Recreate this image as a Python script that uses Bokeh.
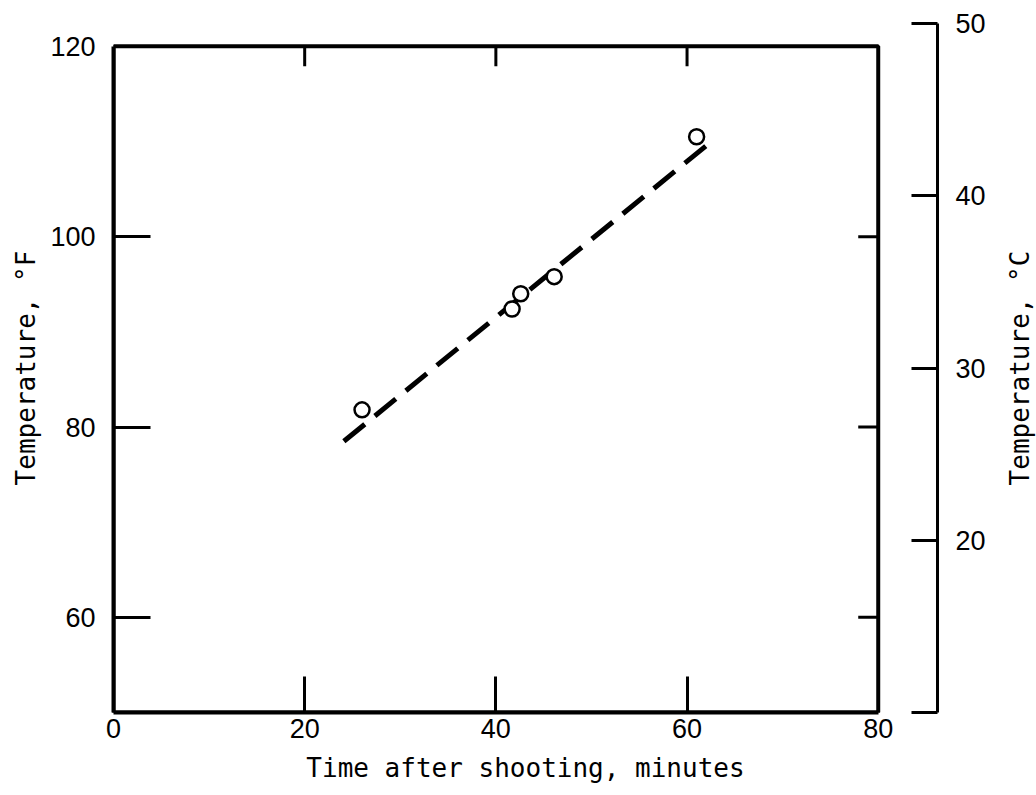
import math
from bokeh.plotting import figure
from bokeh.layouts import row
from bokeh.models import Range1d, LinearAxis, FixedTicker, BoxAnnotation, Title
from bokeh.embed import file_html
from bokeh.resources import INLINE

# ---- data ----
time_min = [26.0, 41.7, 42.6, 46.1, 61.0]
temp_f = [81.8, 92.4, 94.0, 95.8, 110.5]
fit_time = [24.1, 62.3]
fit_temp = [78.5, 109.8]

x_ticks = [0, 20, 40, 60, 80]
f_ticks = [60, 80, 100, 120]
c_ticks = [10, 20, 30, 40, 50]
top_ticks = [20, 40, 60]
right_ticks = [60, 80, 100]

# axis limits
X_MIN, X_MAX = 0, 80
F_MIN, F_MAX = 50, 120
C_MIN, C_MAX = 10, 50
X_END = 86.2     # frame reaches the separate °C axis
F_END = 122.4    # °F value at the top of the °C axis

TICK_FONT = "Liberation Sans"
TITLE_FONT = "DejaVu Sans Mono"

p = figure(width=994, height=795, output_backend="svg", toolbar_location=None,
           x_range=Range1d(X_MIN, X_END), y_range=Range1d(F_MIN, F_END),
           x_axis_location=None, y_axis_location=None,
           min_border_left=113, min_border_right=57, min_border_top=23, min_border_bottom=83)
p.outline_line_color = None
p.background_fill_color = "white"
p.border_fill_color = "white"
for g in p.grid:
    g.visible = False


def style(ax, tick_in):
    ax.axis_line_color = "black"
    ax.axis_line_width = 4
    ax.major_tick_line_color = "black"
    ax.major_tick_line_width = 3
    ax.major_tick_in = tick_in
    ax.major_tick_out = 0
    ax.minor_tick_line_color = None
    ax.major_label_text_font = TICK_FONT
    ax.major_label_text_font_size = "27px"
    ax.major_label_text_color = "black"
    ax.axis_label_text_font = TITLE_FONT
    ax.axis_label_text_font_size = "26px"
    ax.axis_label_text_font_style = "normal"
    ax.axis_label_text_color = "black"


xaxis = LinearAxis(bounds=(X_MIN, X_MAX), ticker=FixedTicker(ticks=x_ticks),
                   axis_label="Time after shooting, minutes")
style(xaxis, 36)
xaxis.major_label_standoff = 6
xaxis.axis_label_standoff = 12
p.add_layout(xaxis, "below")

yaxis = LinearAxis(bounds=(F_MIN, F_MAX), ticker=FixedTicker(ticks=f_ticks),
                   axis_label="Temperature, °F")
style(yaxis, 37)
yaxis.major_label_standoff = 18
yaxis.axis_label_standoff = 6
p.add_layout(yaxis, "left")

p.extra_y_ranges = {"C": Range1d(C_MIN, C_MAX)}
caxis = LinearAxis(y_range_name="C", ticker=FixedTicker(ticks=c_ticks),
                   major_label_overrides={C_MIN: ""})
style(caxis, 26)
caxis.axis_line_width = 3
caxis.major_label_standoff = 18
p.add_layout(caxis, "right")

# plot box (top and right sides)
box = BoxAnnotation(left=X_MIN, right=X_MAX, bottom=F_MIN, top=F_MAX,
                    fill_color=None, fill_alpha=0, line_color="black",
                    line_alpha=1.0, line_width=4)
p.add_layout(box)

# inward ticks on top and right sides of the box
p.ray(x=top_ticks, y=[F_MAX] * len(top_ticks), length=20, length_units="screen",
      angle=-math.pi / 2, line_color="black", line_width=3)
p.ray(x=[X_MAX] * len(right_ticks), y=right_ticks, length=20, length_units="screen",
      angle=math.pi, line_color="black", line_width=3)

# fitted dashed line and data points
p.line(fit_time, fit_temp, line_dash="27 13", line_width=5, line_color="black")
p.scatter(time_min, temp_f, marker="circle", size=15, fill_color="white",
          line_color="black", line_width=2.5)

# narrow strip that carries the °C title, reading bottom-to-top
p2 = figure(width=42, height=795, output_backend="svg", toolbar_location=None,
            x_axis_location=None, y_axis_location=None,
            min_border_left=40, min_border_right=0, min_border_top=23, min_border_bottom=83)
p2.outline_line_color = None
p2.border_fill_color = "white"
p2.background_fill_color = "white"
for g in p2.grid:
    g.visible = False
c_title = Title(text="Temperature, °C", align="center", standoff=0,
                text_font=TITLE_FONT, text_font_size="26px",
                text_font_style="normal", text_color="black")
p2.add_layout(c_title, "left")

layout = row(p, p2)
open("out.html", "w").write(file_html(layout, INLINE))
